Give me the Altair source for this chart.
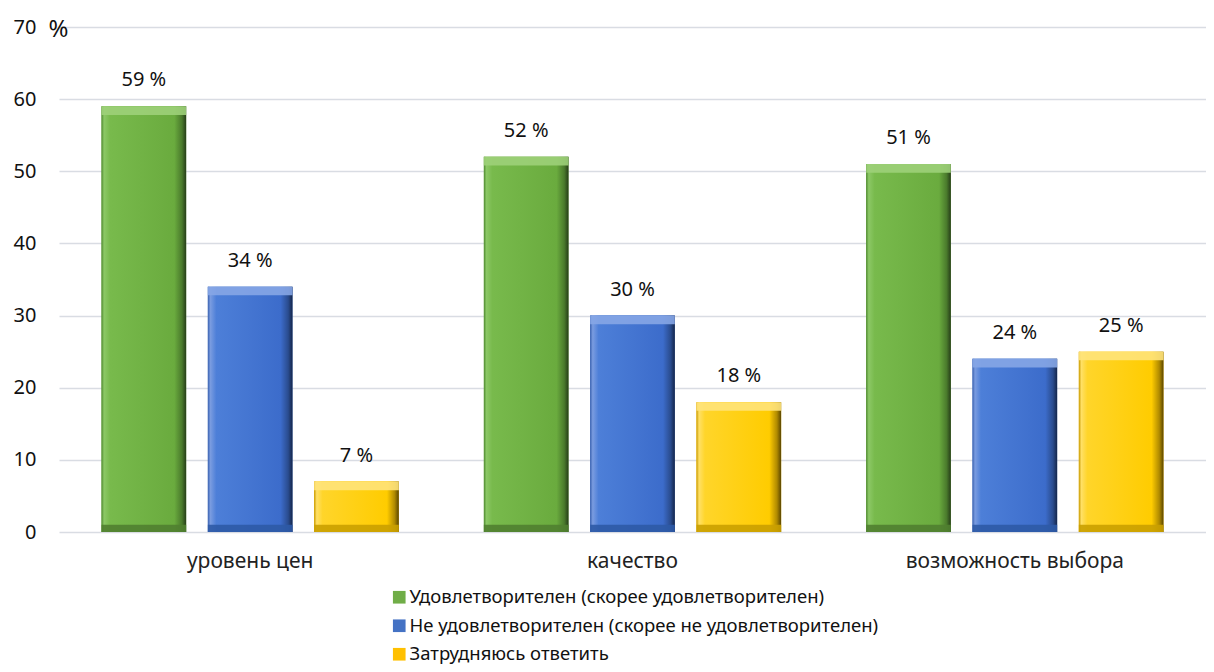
import altair as alt
import pandas as pd

FONT = "Noto Sans"

categories = ["уровень цен", "качество", "возможность выбора"]
series = [
    "Удовлетворителен (скорее удовлетворителен)",
    "Не удовлетворителен (скорее не удовлетворителен)",
    "Затрудняюсь ответить",
]
satisfied = [59, 52, 51]
not_satisfied = [34, 30, 24]
hard_to_say = [7, 18, 25]
y_ticks = [0, 10, 20, 30, 40, 50, 60, 70]

legend_colors = ["#70AD47", "#4472C4", "#FFC000"]
grad_stops = [
    ["#4f8a30", "#8cc866", "#78ba4c", "#6aab3e", "#4a7a2c", "#263d18"],
    ["#3a62b0", "#7a9ce0", "#4d7fd8", "#3c6ccb", "#2a4c8e", "#15264a"],
    ["#c89a00", "#ffe066", "#ffd52a", "#ffcc00", "#b08a00", "#5a4600"],
]
grad_offsets = [0.0, 0.03, 0.10, 0.86, 0.95, 1.0]
top_bevel = ["#9dd079", "#86a6e6", "#ffe37a"]
bottom_bevel = ["#507f30", "#2e5aa6", "#caa000"]

rows = []
for i, c in enumerate(categories):
    for s, vals in zip(series, [satisfied, not_satisfied, hard_to_say]):
        rows.append({"cat": c, "series": s, "value": vals[i], "label": f"{vals[i]} %"})
df = pd.DataFrame(rows)

X = alt.X(
    "cat:N",
    sort=categories,
    scale=alt.Scale(paddingInner=0, paddingOuter=0),
    axis=alt.Axis(
        title=None, labelAngle=0, domain=False, ticks=False, grid=False,
        labelPadding=18, labelFontSize=21, labelColor="#222", labelFont=FONT,
        labelLimit=500,
    ),
)
XO = alt.XOffset(
    "series:N", sort=series,
    scale=alt.Scale(domain=series, paddingInner=0.204, paddingOuter=0.4),
)


def make_y(field):
    return alt.Y(
        field,
        scale=alt.Scale(domain=[0, 70], nice=False),
        axis=alt.Axis(
            values=y_ticks, domain=False, ticks=False, grid=True,
            gridColor="#d9dce3", gridWidth=1.5,
            labelPadding=23, labelFontSize=20, labelColor="#111", labelFont=FONT,
            title="%", titleAngle=0, titleX=-1, titleY=2, titleFontSize=24,
            titleFontWeight="normal", titleAlign="center", titleBaseline="middle",
            titleColor="#111", titleFont=FONT,
        ),
    )


Y = make_y("value:Q")

base = alt.Chart(df)

layers = [
    base.mark_bar().encode(
        x=X, xOffset=XO, y=Y,
        color=alt.Color(
            "series:N", sort=series,
            scale=alt.Scale(domain=series, range=legend_colors),
            legend=alt.Legend(
                title=None, orient="none", legendX=331, legendY=561,
                direction="vertical", symbolType="square", symbolSize=160,
                symbolStrokeWidth=0, labelFontSize=18.5, labelFont=FONT,
                labelColor="#111", rowPadding=9.5, labelOffset=1, labelLimit=700,
            ),
        ),
    )
]

for k, s in enumerate(series):
    sub = base.transform_filter(alt.datum.series == s)
    grad = alt.Gradient(
        gradient="linear", x1=0, x2=1, y1=0, y2=0,
        stops=[alt.GradientStop(color=c, offset=o) for c, o in zip(grad_stops[k], grad_offsets)],
    )
    layers.append(sub.mark_bar(color=grad).encode(x=X, xOffset=XO, y=Y))
    layers.append(
        sub.transform_calculate(top2="datum.value - 1.2")
        .mark_bar(color=top_bevel[k], opacity=0.9)
        .encode(x=X, xOffset=XO, y=Y, y2="top2:Q")
    )
    layers.append(
        sub.transform_calculate(bot2="1.0", bot0="0")
        .mark_bar(color=bottom_bevel[k], opacity=0.9)
        .encode(x=X, xOffset=XO, y=make_y("bot2:Q"), y2="bot0:Q")
    )

layers.append(
    base.mark_text(fontSize=20, font=FONT, color="#111", dy=-26, baseline="middle").encode(
        x=X, xOffset=XO, y=Y, text="label:N"
    )
)

chart = (
    alt.layer(*layers)
    .properties(
        width=1147, height=505,
        autosize=alt.AutoSizeParams(type="none"),
        padding={"left": 51, "top": 19, "right": 0, "bottom": 132},
        background="white",
    )
    .configure_view(stroke=None)
)

chart.save("out.html", embed_options={"renderer": "svg", "actions": False})
